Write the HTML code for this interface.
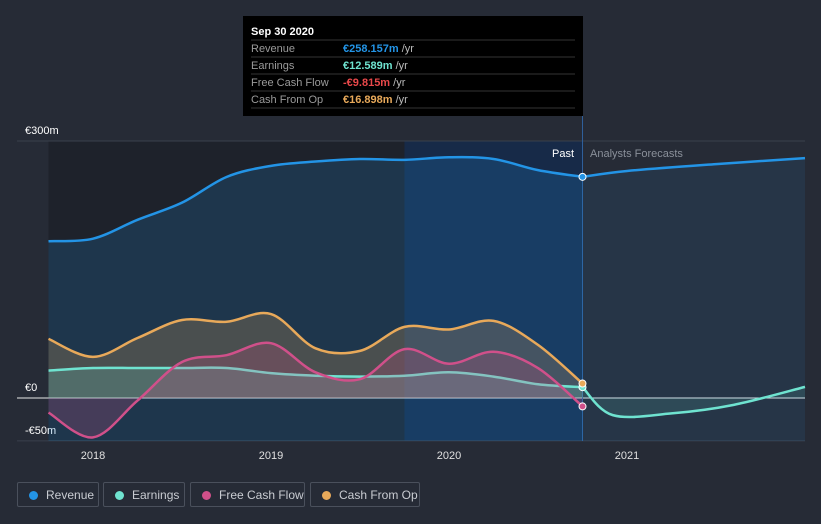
<!DOCTYPE html>
<html><head><meta charset="utf-8"><style>
body{margin:0;background:#262b36;width:821px;height:524px;overflow:hidden;font-family:"Liberation Sans",sans-serif}
svg{position:absolute;left:0;top:0}
.lg{position:absolute;top:482px;height:25px;border:1px solid #4a505c;border-radius:2px;color:#c9ccd2;font-size:12px;line-height:25px;box-sizing:border-box;padding-left:28px}
.lg i{position:absolute;left:11px;top:8px;width:9px;height:9px;border-radius:50%}
</style></head><body>
<svg id="c" width="821" height="524"></svg>
<div class="lg" style="left:17px;width:82px"><i style="background:#2394e6"></i>Revenue</div>
<div class="lg" style="left:103px;width:82px"><i style="background:#6fe3d0"></i>Earnings</div>
<div class="lg" style="left:190px;width:115px"><i style="background:#d0508a"></i>Free Cash Flow</div>
<div class="lg" style="left:310px;width:110px"><i style="background:#e8a95a"></i>Cash From Op</div>
<script>
const pastT=[2017.75,2018,2018.25,2018.5,2018.75,2019,2019.25,2019.5,2019.75,2020,2020.25,2020.5,2020.75];
const revenue=[183,186,208,228,258,271,276,279,278,281,279,266,258.157];
const earnings=[32,35,35,35,35,29,26,25,26,30,25,16,12.589];
const fcf=[-17,-46,-3,42,50,64,30,22,57,40,54,35,-9.815];
const cfo=[69,48,70,91,89,98,58,55,83,80,90,62,16.898];
const fcT=[2020.75,2021,2021.5,2022];
const revenueFc=[258.157,265,273,280];
const earnT=[2020.75,2020.92,2021.25,2021.6,2022];
const earningsFc=[12.589,-20,-18,-8,13];
const yTicks=[300,0,-50];const yLabels=["€300m","€0","-€50m"];
const xTicks=[2018,2019,2020,2021];
const X=t=>93+(t-2018)*178, Y=v=>398-v*0.8567;
const NS="http://www.w3.org/2000/svg",svg=document.getElementById('c');
function el(tag,a,txt){const e=document.createElementNS(NS,tag);for(const k in a)e.setAttribute(k,a[k]);if(txt!=null)e.textContent=txt;svg.appendChild(e);return e;}
function path(ts,vs){const p=ts.map((t,i)=>[X(t),Y(vs[i])]);let d=`M${p[0][0]},${p[0][1]}`;
for(let i=0;i<p.length-1;i++){const p0=p[i-1]||p[i],p1=p[i],p2=p[i+1],p3=p[i+2]||p2;
d+=` C${p1[0]+(p2[0]-p0[0])/6},${p1[1]+(p2[1]-p0[1])/6} ${p2[0]-(p3[0]-p1[0])/6},${p2[1]-(p3[1]-p1[1])/6} ${p2[0]},${p2[1]}`;}return d;}
let r;
r=el('rect',{x:X(2017.75),y:141,width:X(2019.75)-X(2017.75),height:300,fill:'#1e222b'});
r=el('rect',{x:X(2019.75),y:141,width:X(2020.75)-X(2019.75),height:300,fill:'#172a48'});
yTicks.forEach((v,i)=>{const g=el('line',{x1:17,x2:805,y1:Y(v),y2:Y(v),stroke:v===0?'#e8e8e8':'#3a404c','stroke-width':1});
const t=el('text',{x:25,y:Y(v)-7,fill:'#fff',"font-size":11},yLabels[i]);});
el('line',{x1:X(2020.75),x2:X(2020.75),y1:116,y2:441,stroke:'#2f5f9a','stroke-width':1});
xTicks.forEach(t=>{const l=el('text',{x:X(t),y:459,fill:'#e0e0e0',"font-size":11,"text-anchor":"middle"},t);});
function series(name,ts,vs,col,fo,w){const d=path(ts,vs);
const a=el('path',{d:d+` L${X(ts[ts.length-1])},${Y(0)} L${X(ts[0])},${Y(0)} Z`,fill:col,'fill-opacity':fo});
const l=el('path',{d,fill:'none',stroke:col,'stroke-width':w||2.5});}
r=el('path',{d:path(pastT,revenue)+` L${X(2020.75)},441 L${X(2017.75)},441 Z`,fill:'#2394e6','fill-opacity':0.18});
r=el('path',{d:path(pastT,revenue),fill:'none',stroke:'#2394e6','stroke-width':2.5});
r=el('path',{d:path(fcT,revenueFc)+` L805,441 L${X(2020.75)},441 Z`,fill:'#2394e6','fill-opacity':0.1});
r=el('path',{d:path(fcT,revenueFc),fill:'none',stroke:'#2394e6','stroke-width':2.5});
series('cash-from-op',pastT,cfo,'#e8a95a',0.22);
series('earnings',pastT,earnings,'#6fe3d0',0.2);
series('free-cash-flow',pastT,fcf,'#d0508a',0.22);
series('earnings-forecast',earnT,earningsFc,'#6fe3d0',0.12);
[[revenue,'#2394e6'],[earnings,'#6fe3d0'],[fcf,'#d0508a'],[cfo,'#e8a95a']].forEach(([s,c])=>{const d=el('circle',{cx:X(2020.75),cy:Y(s[s.length-1]),r:3.5,fill:c,stroke:'#fff','stroke-width':1});});
el('text',{x:574,y:157,fill:'#fff','font-size':11,'text-anchor':'end'},'Past');
el('text',{x:590,y:157,fill:'#8a909a','font-size':11},'Analysts Forecasts');
r=el('rect',{x:243,y:16,width:340,height:100,fill:'#000'});
el('text',{x:251,y:35,fill:'#fff','font-size':11,'font-weight':'bold'},'Sep 30 2020');
const rows=[['Revenue','€258.157m','#2394e6'],['Earnings','€12.589m','#6fe3d0'],['Free Cash Flow','-€9.815m','#e8484a'],['Cash From Op','€16.898m','#e8a95a']];
rows.forEach((rw,i)=>{const y=52+i*17;el('line',{x1:251,x2:575,y1:y-12,y2:y-12,stroke:'#333'});
el('text',{x:251,y,fill:'#9a9a9a','font-size':11},rw[0]);
const t=el('text',{x:343,y,'font-size':11});const a=document.createElementNS(NS,'tspan');a.setAttribute('fill',rw[2]);a.setAttribute('font-weight','bold');a.textContent=rw[1];t.appendChild(a);
const b=document.createElementNS(NS,'tspan');b.setAttribute('fill','#bbb');b.textContent=' /yr';t.appendChild(b);});
el('line',{x1:251,x2:575,y1:108,y2:108,stroke:'#333'});
</script></body></html>
